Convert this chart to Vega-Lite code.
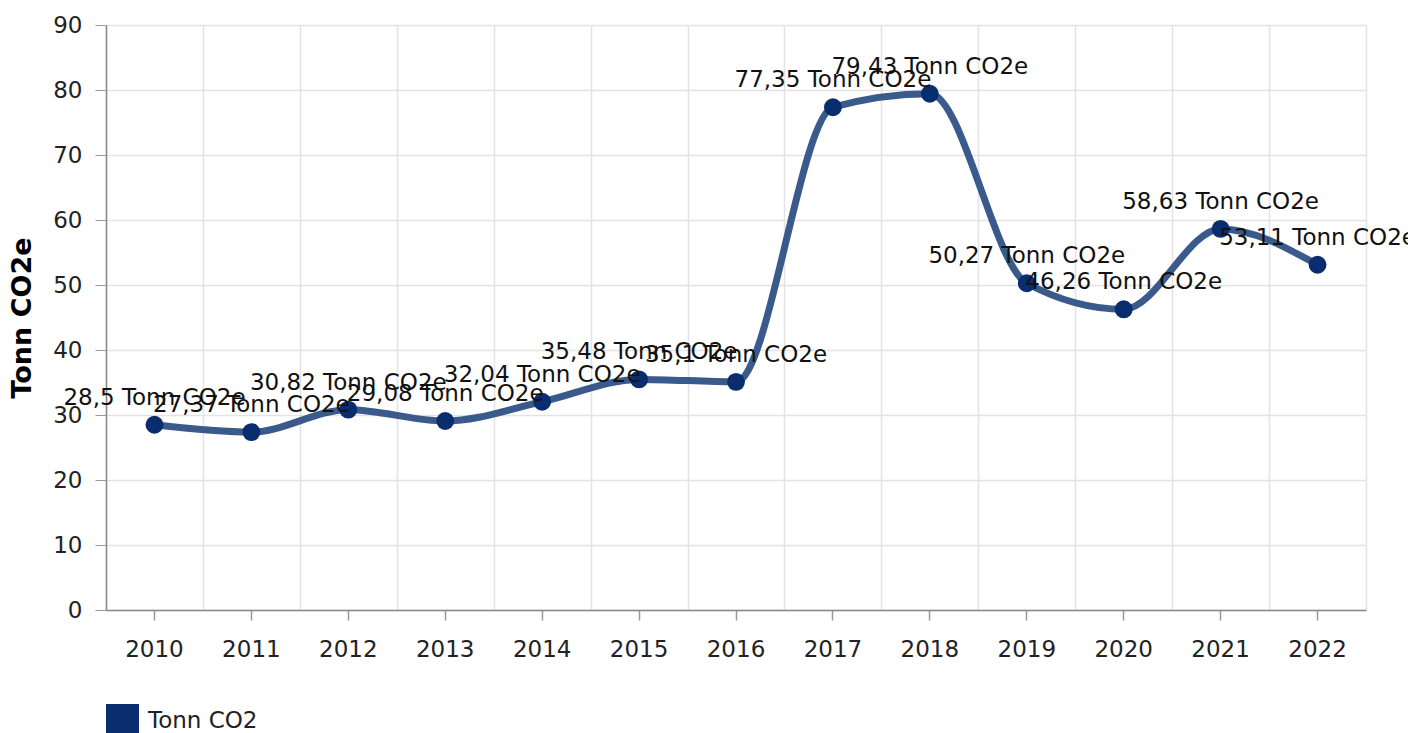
{
  "$schema": "https://vega.github.io/schema/vega-lite/v6.json",
  "width": 1260,
  "height": 585,
  "autosize": {"type": "none"},
  "padding": {"left": 106, "top": 25, "right": 42, "bottom": 123},
  "config": {
    "font": "DejaVu Sans",
    "view": {"stroke": null},
    "axis": {"labelFont": "DejaVu Sans", "titleFont": "DejaVu Sans"}
  },
  "data": {
    "values": [
      {"year": "2010", "value": 28.5, "label": "28,5 Tonn CO2e", "series": "Tonn CO2"},
      {"year": "2011", "value": 27.37, "label": "27,37 Tonn CO2e", "series": "Tonn CO2"},
      {"year": "2012", "value": 30.82, "label": "30,82 Tonn CO2e", "series": "Tonn CO2"},
      {"year": "2013", "value": 29.08, "label": "29,08 Tonn CO2e", "series": "Tonn CO2"},
      {"year": "2014", "value": 32.04, "label": "32,04 Tonn CO2e", "series": "Tonn CO2"},
      {"year": "2015", "value": 35.48, "label": "35,48 Tonn CO2e", "series": "Tonn CO2"},
      {"year": "2016", "value": 35.1, "label": "35,1 Tonn CO2e", "series": "Tonn CO2"},
      {"year": "2017", "value": 77.35, "label": "77,35 Tonn CO2e", "series": "Tonn CO2"},
      {"year": "2018", "value": 79.43, "label": "79,43 Tonn CO2e", "series": "Tonn CO2"},
      {"year": "2019", "value": 50.27, "label": "50,27 Tonn CO2e", "series": "Tonn CO2"},
      {"year": "2020", "value": 46.26, "label": "46,26 Tonn CO2e", "series": "Tonn CO2"},
      {"year": "2021", "value": 58.63, "label": "58,63 Tonn CO2e", "series": "Tonn CO2"},
      {"year": "2022", "value": 53.11, "label": "53,11 Tonn CO2e", "series": "Tonn CO2"}
    ]
  },
  "resolve": {"axis": {"x": "independent"}},
  "layer": [
    {
      "mark": {"type": "line", "interpolate": "monotone", "color": "#3a5a8c", "strokeWidth": 7, "strokeCap": "round"},
      "encoding": {
        "x": {
          "field": "year", "type": "ordinal",
          "scale": {"type": "band", "paddingInner": 0, "paddingOuter": 0},
          "axis": {"orient": "bottom", "grid": true, "tickBand": "extent", "gridColor": "#e3e3e3", "gridWidth": 1.5, "ticks": false, "labels": false, "domain": false, "title": null}
        },
        "y": {
          "field": "value", "type": "quantitative",
          "scale": {"domain": [0, 90], "nice": false},
          "axis": {"values": [0,10,20,30,40,50,60,70,80,90], "title": "Tonn CO2e", "titleFontSize": 27, "titleFontWeight": "bold", "titleColor": "#000", "titlePadding": 16, "labelFontSize": 23, "labelColor": "#222", "labelPadding": 13, "tickSize": 11, "tickColor": "#999", "domainColor": "#888", "domainWidth": 1.5, "gridColor": "#e3e3e3", "gridWidth": 1.5}
        }
      }
    },
    {
      "mark": {"type": "point", "filled": true, "size": 320, "opacity": 1},
      "encoding": {
        "x": {
          "field": "year", "type": "ordinal",
          "axis": {"orient": "bottom", "grid": false, "labelAngle": 0, "labelFontSize": 23, "labelColor": "#222", "labelPadding": 18, "tickSize": 10, "tickColor": "#999", "tickWidth": 1.5, "domainColor": "#888", "domainWidth": 1.5, "title": null}
        },
        "y": {"field": "value", "type": "quantitative"},
        "color": {
          "field": "series", "type": "nominal",
          "scale": {"range": ["#0a2d6d"]},
          "legend": {"title": null, "orient": "none", "legendX": 0, "legendY": 679, "symbolType": "square", "symbolSize": 1089, "symbolStrokeWidth": 0, "labelFontSize": 23, "labelColor": "#222", "labelOffset": 9, "padding": 0}
        }
      }
    },
    {
      "mark": {"type": "text", "fontSize": 23, "color": "#111", "baseline": "middle", "dy": -27},
      "encoding": {
        "x": {"field": "year", "type": "ordinal", "axis": null},
        "y": {"field": "value", "type": "quantitative"},
        "text": {"field": "label"}
      }
    }
  ]
}
